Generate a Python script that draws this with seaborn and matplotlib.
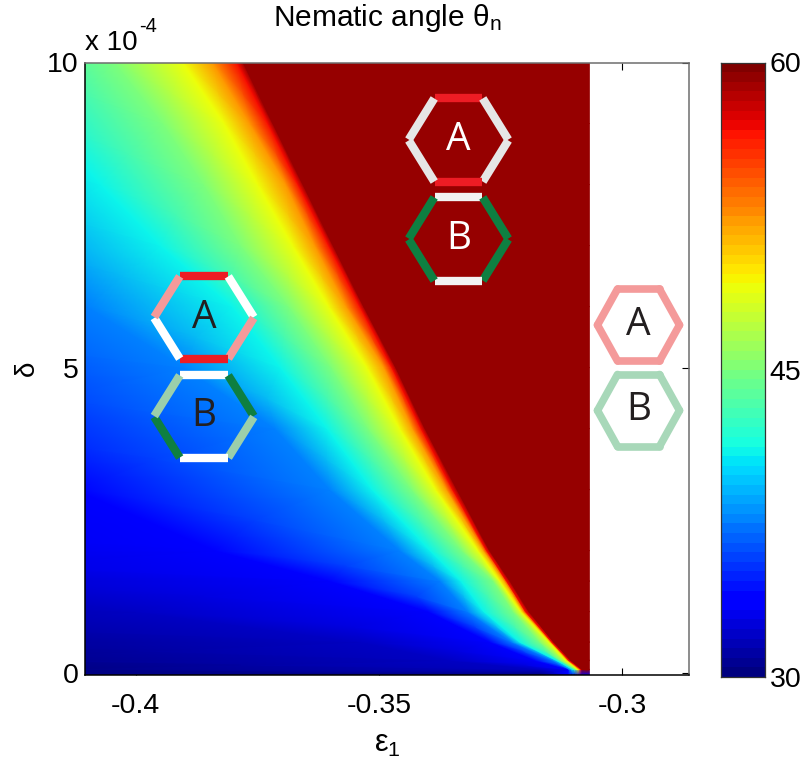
import numpy as np
import matplotlib
matplotlib.use("Agg")
import matplotlib.pyplot as plt
import seaborn as sns

sns.set_theme(style="ticks")
plt.rcParams["font.family"] = ["Liberation Sans", "DejaVu Sans"]
plt.rcParams["mathtext.fontset"] = "custom"
plt.rcParams["mathtext.rm"] = "Liberation Sans"
plt.rcParams["mathtext.it"] = "Liberation Sans"
plt.rcParams["mathtext.default"] = "regular"

# delta (x 1e-4) rows
delta = [-0.04, 0.05, 0.2, 0.5, 1, 1.5, 2, 3, 4, 5, 6, 7, 8, 9, 10]

# angle levels, and where each one sits (epsilon_1) along every delta row
levels = [30, 31.8, 33.6, 37.5, 41, 45, 49.2, 52.5, 56.9, 59.34, 59.34]
eps_30 = [-.4219, -.4219, -.4396, -.4690, -.5307, -.5718, -.6335, -.7363, -.9419, -1.05, -1.05, -1.05, -1.05, -1.05, -1.05]
eps_32 = [-.3169, -.3169, -.3354, -.3537, -.4001, -.4443, -.5307, -.6335, -.8391, -.95, -.95, -.95, -.95, -.95, -.95]
eps_34 = [-.3111, -.3111, -.3179, -.3272, -.3399, -.3601, -.3837, -.4125, -.4402, -.4690, -.4978, -.5266, -.5554, -.5841, -.6129]
eps_38 = [-.3107, -.3107, -.3142, -.3226, -.3317, -.3374, -.3457, -.3601, -.3714, -.3901, -.4100, -.4258, -.4402, -.4546, -.4690]
eps_41 = [-.3101, -.3101, -.3134, -.3210, -.3284, -.3331, -.3395, -.3514, -.3607, -.3703, -.3802, -.3950, -.4073, -.4186, -.4279]
eps_45 = [-.3095, -.3095, -.3126, -.3169, -.3224, -.3265, -.3329, -.3432, -.3522, -.3598, -.3685, -.3784, -.3860, -.3944, -.4043]
eps_49 = [-.3091, -.3091, -.3115, -.3150, -.3208, -.3251, -.3296, -.3383, -.3457, -.3524, -.3603, -.3677, -.3749, -.3818, -.3903]
eps_52 = [-.3087, -.3087, -.3111, -.3146, -.3202, -.3241, -.3284, -.3360, -.3430, -.3489, -.3566, -.3631, -.3691, -.3765, -.3841]
eps_57 = [-.3084, -.3084, -.3109, -.3144, -.3198, -.3237, -.3278, -.3348, -.3413, -.3473, -.3539, -.3603, -.3666, -.3728, -.3792]
eps_60 = [-.3082, -.3082, -.3105, -.3140, -.3191, -.3230, -.3272, -.3339, -.3405, -.3465, -.3531, -.3594, -.3656, -.3718, -.3779]
eps_end = [-.3067] * len(delta)

x_ticks = [-0.4, -0.35, -0.3]
y_ticks = [0, 5, 10]
cbar_labels = ["60", "45", "30"]

X = np.array([eps_30, eps_32, eps_34, eps_38, eps_41, eps_45, eps_49, eps_52, eps_57, eps_60, eps_end]).T
Y = np.tile(np.array(delta)[:, None], (1, X.shape[1]))
C = np.tile(np.array(levels), (X.shape[0], 1))
# the bottom row stays dark, only blue under the tip
C[0, :2] = 30
C[0, 2:] = 33.6

jet = matplotlib.colormaps["jet"]

fig = plt.figure(figsize=(8.07, 7.61), dpi=100)
W, H = 807.0, 761.0
ax = fig.add_axes([85.3 / W, 1 - 675 / H, (689 - 85.3) / W, (675 - 62.5) / H])
ax.pcolormesh(X, Y, C, shading="gouraud", cmap=jet, vmin=30, vmax=60, rasterized=True)
ax.set_xlim(-0.4104, -0.2862)
ax.set_ylim(-0.04, 10.0)
ax.set_xticks(x_ticks)
ax.set_xticklabels(["-0.4", "-0.35", "-0.3"])
ax.set_yticks(y_ticks)
ax.tick_params(direction="in", length=5, width=0.8, color="black", top=True, right=True,
               labelsize=20.5, labelcolor="black")
ax.tick_params(axis="x", pad=13)
ax.tick_params(axis="y", pad=5)
for name, col in [("left", "black"), ("bottom", "black"), ("top", "#6e6e6e"), ("right", "#6e6e6e")]:
    ax.spines[name].set_color(col)
    ax.spines[name].set_linewidth(1.1)
ax.set_xlabel(r"$\mathrm{\varepsilon}_{1}$", fontsize=22, color="black", labelpad=7)
ax.set_ylabel("δ", fontsize=20, color="black", labelpad=5)
ax.set_title(r"Nematic angle $\mathrm{\theta}_{n}$", fontsize=21.5, color="black", pad=26)

# colour bar, 64 steps like the original colormap
cax = fig.add_axes([721 / W, 1 - 677 / H, 44 / W, (677 - 62.5) / H])
ramp = np.linspace(60, 30, 64)[:, None]
sns.heatmap(ramp, cmap=jet, vmin=30, vmax=60, cbar=False, ax=cax, xticklabels=False)
cax.yaxis.tick_right()
cax.set_yticks([0, 32, 64])
cax.set_yticklabels(cbar_labels, rotation=0, fontsize=20.5, color="black")
cax.tick_params(length=0, pad=3.5)
for s in cax.spines.values():
    s.set_visible(True)
    s.set_color("#333333")
    s.set_linewidth(0.9)

# offset label
fig.text(85 / W, 1 - 43 / H, "x 10", fontsize=20, color="black", va="center", ha="left")
fig.text(139 / W, 1 - 27 / H, "-4", fontsize=14.5, color="black", va="center", ha="left")

# hexagon sketches, overlay in pixel units
over = fig.add_axes([0, 0, 1, 1])
over.set_xlim(0, W)
over.set_ylim(H, 0)
over.axis("off")
over.patch.set_alpha(0)

PINK, RED, LGREEN, DGREEN = "#F49A9A", "#ED1C24", "#9BCFAB", "#0E7F41"


def hexagon(cx, cy, hw, hh, ht, colours, lw, gap, label, txtcol):
    pts = [(cx - ht, cy - hh), (cx + ht, cy - hh), (cx + hw, cy), (cx + ht, cy + hh), (cx - ht, cy + hh), (cx - hw, cy)]
    for i, c in enumerate(colours):
        a = np.array(pts[i])
        b = np.array(pts[(i + 1) % 6])
        d = (b - a) * gap
        over.plot([a[0] + d[0], b[0] - d[0]], [a[1] + d[1], b[1] - d[1]], color=c, lw=lw,
                  solid_capstyle="butt" if gap > 0 else "round")
    over.text(cx, cy, label, fontsize=28, color=txtcol, ha="center", va="center", family="Open Sans")


hexagon(204, 317.5, 50, 41.5, 24, [RED, "white", PINK, RED, "white", PINK], 6, 0.01, "A", "#231F20")
hexagon(204, 416.5, 50, 41.5, 24, ["white", DGREEN, LGREEN, "white", DGREEN, LGREEN], 6, 0.01, "B", "#231F20")
GR = "#E6E6E6"
hexagon(458.5, 140, 50, 42, 24, [RED, GR, GR, RED, GR, GR], 6, 0.01, "A", "white")
hexagon(458.5, 239, 50, 42, 24, ["#F2F2F2", DGREEN, DGREEN, "#F2F2F2", DGREEN, DGREEN], 6, 0.01, "B", "white")
hexagon(638.5, 325, 41, 36, 21, [PINK] * 6, 5.5, 0, "A", "#231F20")
hexagon(638.5, 410.5, 41, 36, 21, ["#A8D8B9"] * 6, 5.5, 0, "B", "#231F20")

fig.savefig("out.png", dpi=100)
plt.close()
